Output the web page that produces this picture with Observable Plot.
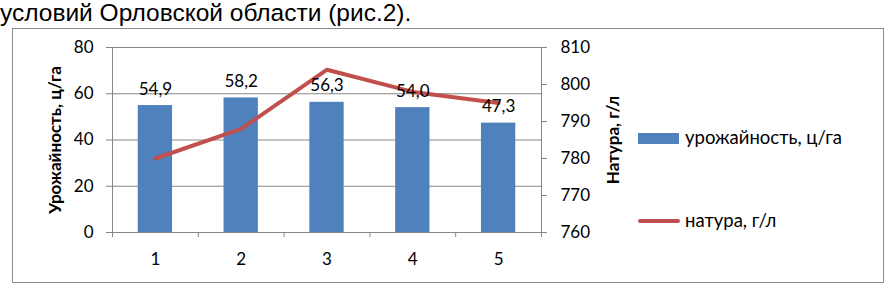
<!DOCTYPE html>
<html><head><meta charset="utf-8">
<script src="https://cdn.jsdelivr.net/npm/d3@7"></script>
<script src="https://cdn.jsdelivr.net/npm/@observablehq/plot@0.6"></script>
<style>
html,body{margin:0;padding:0;background:#fff;}
#wrap{position:relative;width:888px;height:285px;overflow:hidden;}
#head{position:absolute;left:0;top:0;font-family:"Liberation Sans",Arial,sans-serif;font-size:24.5px;line-height:26px;white-space:nowrap;color:#000;}
#frame{position:absolute;left:12px;top:28px;width:870px;height:253px;border:1.5px solid #8a8a8a;}
#chart{position:absolute;left:0;top:0;}
.leg{position:absolute;font-family:Lato,sans-serif;font-size:18.5px;color:#000;white-space:nowrap;}
</style></head>
<body>
<div id="wrap">
<div id="head">условий Орловской области (рис.2).</div>
<div id="frame"></div>
<div id="chart"></div>
<div style="position:absolute;left:638px;top:133px;width:41px;height:11px;background:#4F81BD"></div>
<div class="leg" style="left:685px;top:126px">урожайность, ц/га</div>
<div style="position:absolute;left:638px;top:219px;width:42px;height:4px;border-radius:2px;background:#C0504D"></div>
<div class="leg" style="left:685px;top:209px">натура, г/л</div>
</div>
<script>
const categories = [1, 2, 3, 4, 5];
const yieldValues = [54.9, 58.2, 56.3, 54.0, 47.3];
const natureValues = [780, 788, 804, 798, 795];
const yTicks = [0, 20, 40, 60, 80];
const y2Ticks = [760, 770, 780, 790, 800, 810];
const yTitle = "Урожайность, ц/га";
const y2Title = "Натура, г/л";

const y2Min = 760, y2Max = 810, yMax = 80;
const toY = v => (v - y2Min) / (y2Max - y2Min) * yMax;
const fromY = y => y / yMax * (y2Max - y2Min) + y2Min;

const data = categories.map((k, i) => ({k, yield: yieldValues[i], nat: natureValues[i]}));
const bounds = [categories[0] - 0.5, ...categories.map(c => c + 0.5)];
const gray = "#868686";

const chart = Plot.plot({
  width: 888, height: 285,
  marginLeft: 112, marginRight: 347, marginTop: 47, marginBottom: 53,
  x: {type: "linear", domain: [bounds[0], bounds[bounds.length - 1]]},
  y: {domain: [0, yMax]},
  style: {fontFamily: "Lato, sans-serif", fontSize: "16px", color: "#000", background: "transparent", overflow: "visible"},
  marks: [
    Plot.ruleY(yTicks.slice(1), {stroke: gray, strokeWidth: 1}),
    Plot.rectY(data, {x1: d => d.k - 0.2, x2: d => d.k + 0.2, y1: 0, y2: "yield", fill: "#4F81BD"}),
    Plot.ruleX([bounds[0], bounds[bounds.length - 1]], {stroke: gray}),
    Plot.ruleY([0], {stroke: gray}),
    Plot.line(data, {x: "k", y: d => toY(d.nat), stroke: "#C0504D", strokeWidth: 4, strokeLinejoin: "miter"}),
    Plot.text(data, {x: "k", y: "yield", text: d => d.yield.toFixed(1).replace(".", ","), lineAnchor: "bottom", dy: -11, fontSize: 17}),
    Plot.axisY({anchor: "left", ticks: yTicks, tickSize: 6, tickPadding: 13, stroke: gray, label: null, fontSize: 17}),
    Plot.axisY({anchor: "right", ticks: y2Ticks.map(toY), tickFormat: d => String(Math.round(fromY(d))), tickSize: 5, tickPadding: 14, stroke: gray, label: null, fontSize: 17}),
    Plot.axisX({ticks: bounds, tickFormat: () => "", tickSize: 5, stroke: gray, label: null}),
    Plot.axisX({ticks: categories, tickFormat: d => String(d), tickSize: 0, tickPadding: 20, label: null, fontSize: 17})
  ]
});
document.getElementById("chart").appendChild(chart);

const svg = d3.select(chart);
svg.append("text").text(yTitle)
  .attr("transform", "translate(61,140) rotate(-90)")
  .attr("text-anchor", "middle").attr("font-family", "Lato, sans-serif")
  .attr("font-weight", "bold").attr("font-size", 17);
svg.append("text").text(y2Title)
  .attr("transform", "translate(619,140) rotate(-90)")
  .attr("text-anchor", "middle").attr("font-family", "Lato, sans-serif")
  .attr("font-weight", "bold").attr("font-size", 17);
</script>
</body></html>
